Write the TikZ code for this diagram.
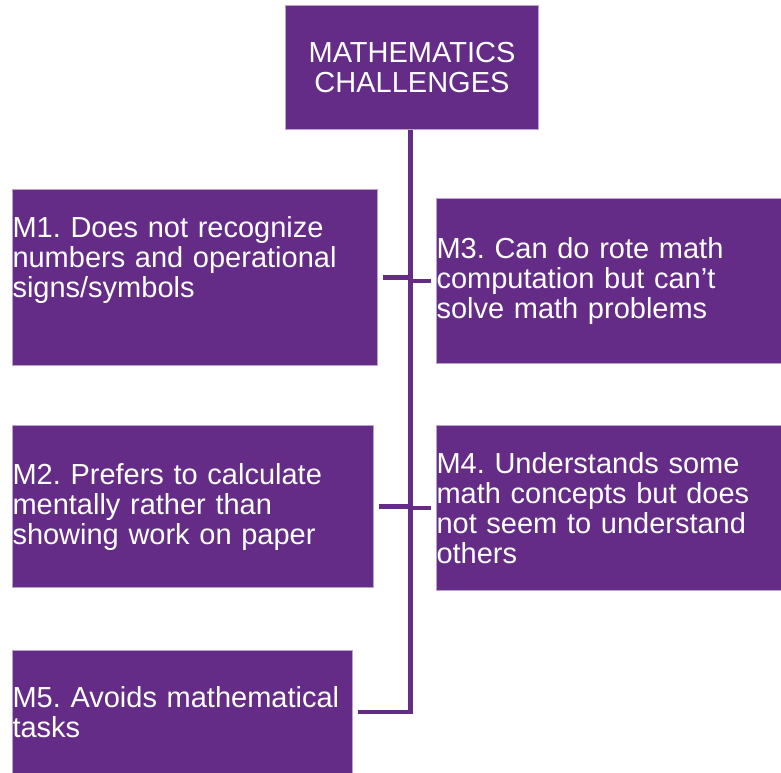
\documentclass[tikz,border=0pt]{standalone}
\usepackage{fontspec}
\setmainfont{Liberation Sans}
\usetikzlibrary{positioning,calc}
\definecolor{ciruela}{HTML}{642C86}
\definecolor{lila}{HTML}{B9A3CB}
\frenchspacing

\begin{document}
\begin{tikzpicture}[x=0.75pt, y=-0.75pt,
    font=\fontsize{21.75}{22.5}\selectfont,
    caja/.style={fill=ciruela, draw=lila, line width=0.75pt, text=white,
      inner xsep=0pt, inner ysep=0pt, anchor=north west, align=left},
    enlace/.style={draw=ciruela, line width=3.4pt, shorten <=3.75pt}]
  \useasboundingbox (0,0) rectangle (781,772);
  \node[caja, align=center, text width=189.75pt, minimum height=93pt,
    font=\fontsize{21.75}{23}\selectfont] (titulo) at (285,5) {MATHEMATICS\\CHALLENGES};
  \node[caja, text width=273.75pt, minimum height=132pt] (m1) at (12,189)
    {M1. Does not recognize\\numbers and operational\\signs/symbols\\\rule[-9pt]{0pt}{0pt}};
  \node[caja, text width=258.75pt, minimum height=123.75pt] (m3) at (436,198)
    {M3. Can do rote math\\computation but can’t\\solve math problems};
  \node[caja, text width=270.75pt, minimum height=121.5pt] (m2) at (12,425)
    {M2. Prefers to calculate\\mentally rather than\\showing work on paper};
  \node[caja, text width=258.75pt, minimum height=123.75pt] (m4) at (436,425)
    {M4. Understands some\\math concepts but does\\not seem to understand\\others};
  \node[caja, text width=255pt, minimum height=92pt] (m5) at (12,650)
    {M5. Avoids mathematical\\tasks};
  % tronco vertical y ramas
  \coordinate (codo) at (410.5,712);
  \draw[enlace] (m5.east) -- (m5.east -| codo) -- (titulo.south -| codo);
  \draw[enlace] (m1.east) -- (m1.east -| codo);
  \draw[enlace] (m3.west) -- (m3.west -| codo);
  \draw[enlace] (m2.east) -- (m2.east -| codo);
  \draw[enlace] (m4.west) -- (m4.west -| codo);
\end{tikzpicture}
\end{document}
